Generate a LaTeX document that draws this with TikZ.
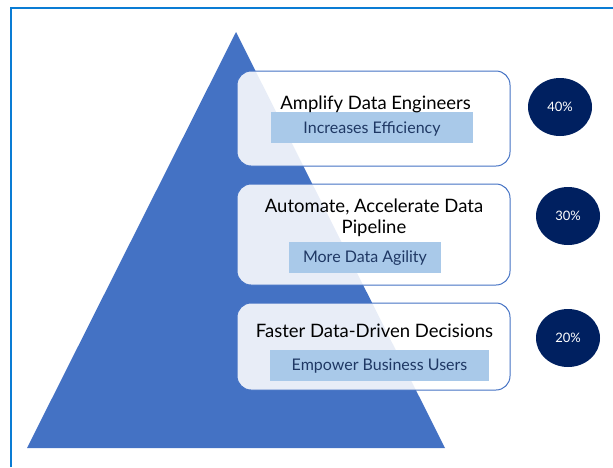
\documentclass[tikz,border=0pt]{standalone}
\usepackage{fontspec}
\setmainfont{Lato}
\usetikzlibrary{shapes.geometric}
\definecolor{pyramid}{HTML}{4472C4}
\definecolor{navy}{HTML}{002060}
\definecolor{tagfill}{HTML}{A9C9E9}
\definecolor{tagtext}{HTML}{1F3864}
\definecolor{frameblue}{HTML}{0A7CD4}
\tikzset{
%Define style for the frame line
frame/.style={draw=frameblue, line width=1.5pt},
%Define style for the white cards on the pyramid
card/.style={draw=pyramid, line width=1pt, fill=white, fill opacity=0.88,
  rounded corners=14pt, minimum width=273pt},
%Define style for titles and tags
title/.style={anchor=base, align=center, font=\fontsize{18.5}{21}\selectfont},
tag/.style={fill=tagfill, text=tagtext, inner sep=0pt, minimum height=31pt,
  text height=11pt, text depth=-3pt, font=\fontsize{16}{18}\selectfont},
badge/.style={ellipse, fill=navy, text=white, inner sep=0pt,
  minimum width=64pt, minimum height=58pt, font=\fontsize{13}{15}\selectfont},
}
\begin{document}
\begin{tikzpicture}[x=1pt, y=-1pt]
    \useasboundingbox (0,0) rectangle (613,467);
    % Frame
    \draw[frame] (11,467) -- (11,8) -- (613,8);

    % Pyramid
    \coordinate (apex) at (236,32);
    \coordinate (bl) at (27,448);
    \coordinate (br) at (445,448);
    \fill[pyramid] (apex) -- (br) -- (bl) -- cycle;

    % Cards
    \node[card, minimum height=95pt] (card1) at (373.5,118.5) {};
    \node[card, minimum height=101pt] (card2) at (373.5,234.5) {};
    \node[card, minimum height=87pt] (card3) at (373.5,346.5) {};

    % Tags
    \node[tag, minimum width=202pt] (tag1) at (372,127.5) {Increases Efficiency};
    \node[tag, minimum width=152pt] (tag2) at (365,257) {More Data Agility};
    \node[tag, minimum width=219pt] (tag3) at (379.5,365) {Empower Business Users};

    % Titles
    \node[title] (title1) at (375.5,109) {Amplify Data Engineers};
    \node[title, anchor=north] (title2) at (374,195) {Automate, Accelerate Data\\Pipeline};
    \node[title] (title3) at (374.5,337) {Faster Data-Driven Decisions};

    % Badges
    \node[badge] (badge1) at (560,107) {40\%};
    \node[badge] (badge2) at (568,216) {30\%};
    \node[badge] (badge3) at (568,338) {20\%};
\end{tikzpicture}
\end{document}
